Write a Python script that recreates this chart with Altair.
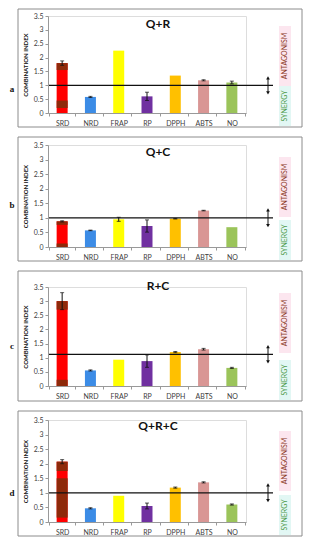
import altair as alt
import pandas as pd

# ---------------- data ----------------
categories = ["SRD", "NRD", "FRAP", "RP", "DPPH", "ABTS", "NO"]
bar_colors = ["#FF0000", "#3C8CE6", "#FFFF00", "#7030A0", "#FFC000", "#D99694", "#9BC45A"]
srd_dark_color = "#8E2A0A"

panel_titles = ["Q+R", "Q+C", "R+C", "Q+R+C"]
panel_letters = ["a", "b", "c", "d"]

qr_values = [1.80, 0.58, 2.25, 0.60, 1.35, 1.18, 1.10]
qr_errors = [0.08, 0.02, 0.00, 0.15, 0.00, 0.02, 0.05]
qc_values = [0.88, 0.57, 0.95, 0.72, 0.97, 1.25, 0.68]
qc_errors = [0.02, 0.01, 0.07, 0.21, 0.01, 0.01, 0.00]
rc_values = [3.00, 0.55, 0.93, 0.88, 1.20, 1.30, 0.64]
rc_errors = [0.30, 0.02, 0.00, 0.22, 0.02, 0.03, 0.02]
qrc_values = [2.07, 0.47, 0.90, 0.55, 1.18, 1.36, 0.60]
qrc_errors = [0.07, 0.02, 0.00, 0.10, 0.02, 0.02, 0.02]

reference_levels = [1.0, 1.0, 1.12, 1.0]

# darker (brown) segments seen inside the SRD bars
srd_dark_segments = [
    [(1.55, 1.80), (0.18, 0.45)],
    [(0.76, 0.88), (0.00, 0.12)],
    [(2.70, 3.00), (0.00, 0.22)],
    [(1.75, 2.07), (0.15, 1.50)],
]

y_ticks = [0, 0.5, 1, 1.5, 2, 2.5, 3, 3.5]

all_values = [qr_values, qc_values, rc_values, qrc_values]
all_errors = [qr_errors, qc_errors, rc_errors, qrc_errors]

# ---------------- layout ----------------
PW = 198          # width of the category band area
# (plot height, box top above plot, box bottom below plot, letter y from box top)
layouts = [(97, 7, 14, 80), (102, 8, 14, 68), (99, 16, 15, 75), (102, 9, 14, 82)]
BOX_L, BOX_R = -30, 254
LINE_END, ARROW_X, SIDE_X = 225, 220, 237
FONT = "Lato"


def make_panel(i):
    PH, top_off, bot_off, letter_off = layouts[i]
    vals = all_values[i]
    errs = all_errors[i]
    level = reference_levels[i]
    box_top = -top_off
    box_bot = PH + bot_off
    box_h = box_bot - box_top

    df = pd.DataFrame({"cat": categories, "value": vals, "err": errs})
    df["lo"] = df["value"] - df["err"]
    df["hi"] = df["value"] + df["err"]
    df_err = df[df["err"] > 0]

    seg = pd.DataFrame(
        [{"cat": "SRD", "lo": a, "hi": b} for a, b in srd_dark_segments[i]]
    )

    xscale = alt.Scale(domain=categories)
    yscale = alt.Scale(domain=[0, 3.5], nice=False, zero=True)
    xaxis = alt.Axis(
        title=None, labelAngle=0, zindex=1,
        labelFont=FONT, labelFontSize=7, labelColor="#404040", labelPadding=3,
        domainColor="#999999", tickColor="#999999", tickSize=3, tickBand="extent",
    )
    yaxis = alt.Axis(
        title="COMBINATION INDEX", values=y_ticks, zindex=1, format=".2~g",
        grid=False, labelOverlap=False, labelFlush=False,
        labelFont=FONT, labelFontSize=7, labelColor="#404040", labelPadding=2,
        titleFont=FONT, titleFontSize=6, titleFontWeight="bold", titleColor="#111111",
        titlePadding=5, domainColor="#999999", tickColor="#999999", tickSize=3,
        minExtent=0,
    )

    X = alt.X("cat:N", scale=xscale, axis=xaxis, sort=categories)

    def Yf(field):
        return alt.Y(field, scale=yscale, axis=None)

    def Yd(v):
        return alt.Y(datum=v, scale=yscale, axis=None)

    base = alt.Chart(pd.DataFrame({"k": [0]}))
    box = base.mark_rect(fillOpacity=0, stroke="#8C8C8C", strokeWidth=1).encode(
        x=alt.value(BOX_L), x2=alt.value(BOX_R), y=alt.value(box_top), y2=alt.value(box_bot)
    )

    bars = alt.Chart(df).mark_bar(size=11).encode(
        x=X,
        y=alt.Y("value:Q", scale=yscale, axis=yaxis),
        color=alt.Color("cat:N", scale=alt.Scale(domain=categories, range=bar_colors), legend=None),
    )
    dark = alt.Chart(seg).mark_bar(size=11, color=srd_dark_color).encode(
        x=X, y=Yf("lo:Q"), y2="hi:Q",
    )
    err_rule = alt.Chart(df_err).mark_rule(color="#111111", strokeWidth=1).encode(
        x=X, y=Yf("lo:Q"), y2="hi:Q"
    )
    cap_lo = alt.Chart(df_err).mark_tick(color="#111111", size=4, thickness=1).encode(
        x=X, y=Yf("lo:Q")
    )
    cap_hi = alt.Chart(df_err).mark_tick(color="#111111", size=4, thickness=1).encode(
        x=X, y=Yf("hi:Q")
    )

    hline = base.mark_rule(color="#111111", strokeWidth=1.2).encode(
        x=alt.value(0), x2=alt.value(LINE_END), y=Yd(level)
    )
    arrow = base.mark_rule(color="#111111", strokeWidth=1).encode(
        x=alt.value(ARROW_X), y=Yd(level + 0.25), y2=alt.Y2(datum=level - 0.25)
    )
    head_up = base.mark_point(shape="triangle-up", filled=True, color="#111111", size=14, opacity=1).encode(
        x=alt.value(ARROW_X), y=Yd(level + 0.27)
    )
    head_dn = base.mark_point(shape="triangle-down", filled=True, color="#111111", size=14, opacity=1).encode(
        x=alt.value(ARROW_X), y=Yd(level - 0.27)
    )

    ant_y = box_top + round(box_h * 0.40)
    syn_y = box_bot - 21
    ant_bg = base.mark_rect(color="#FCE6EF").encode(
        x=alt.value(SIDE_X - 6), x2=alt.value(SIDE_X + 6),
        y=alt.value(ant_y - 30), y2=alt.value(ant_y + 30)
    )
    syn_bg = base.mark_rect(color="#E2F7F4").encode(
        x=alt.value(SIDE_X - 6), x2=alt.value(SIDE_X + 6),
        y=alt.value(syn_y - 20), y2=alt.value(syn_y + 20)
    )
    ant = base.mark_text(
        text="ANTAGONISM", angle=270, font=FONT, fontSize=7, color="#8B3A1E"
    ).encode(x=alt.value(SIDE_X), y=alt.value(ant_y))
    syn = base.mark_text(
        text="SYNERGY", angle=270, font=FONT, fontSize=7, color="#4E9A4A"
    ).encode(x=alt.value(SIDE_X), y=alt.value(syn_y))

    title = base.mark_text(
        text=panel_titles[i], font=FONT, fontSize=12, fontWeight="bold", color="#111111"
    ).encode(x=alt.value(110), y=alt.value(box_top + 15))
    letter = base.mark_text(
        text=panel_letters[i], font="Liberation Serif", fontSize=9, fontWeight="bold", color="#111111"
    ).encode(x=alt.value(BOX_L - 6), y=alt.value(box_top + letter_off))

    return alt.layer(
        box, ant_bg, syn_bg, bars, dark, err_rule, cap_lo, cap_hi, hline, arrow,
        head_up, head_dn, ant, syn, title, letter
    ).resolve_axis(y="independent").properties(width=PW, height=PH)


chart = alt.vconcat(*[make_panel(i) for i in range(4)], spacing=8).properties(
    padding=0
).configure_view(
    strokeWidth=0
).configure(background="white")

chart.save("out.html", embed_options={"renderer": "svg", "actions": False})
